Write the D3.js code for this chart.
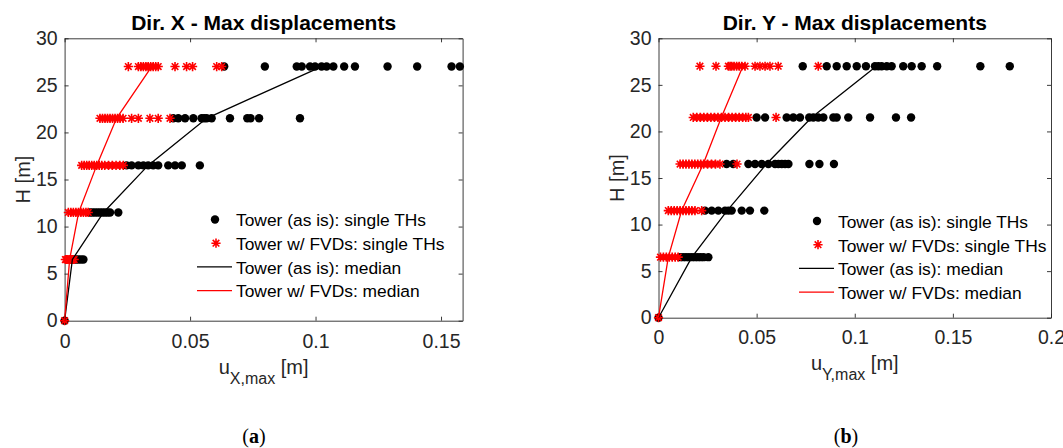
<!DOCTYPE html>
<html>
<head>
<meta charset="utf-8">
<script src="https://cdn.jsdelivr.net/npm/d3@7"></script>
<style>
  html, body { margin: 0; padding: 0; background: #fff; }
  svg { display: block; font-family: "Liberation Sans", Arial, sans-serif; }
</style>
</head>
<body>
<svg id="chart" width="1063" height="448"></svg>
<script>
// Storey heights [m]
const heights = [0, 6.5, 11.5, 16.5, 21.5, 27];

// Dir. X – single time-history maxima per storey (tower as is)
const xAsIsSingle = [
  [0],
  [0.0035, 0.0045, 0.0055, 0.0065, 0.0075],
  [0.0101, 0.0111, 0.0121, 0.0131, 0.0141, 0.0151, 0.0161, 0.0171, 0.0181, 0.0214],
  [0.0247, 0.0267, 0.0294, 0.0314, 0.0333, 0.0353, 0.0373, 0.0413, 0.0440, 0.0467, 0.0539],
  [0.0433, 0.0453, 0.0480, 0.0513, 0.0546, 0.0556, 0.0566, 0.0586, 0.0659, 0.0728, 0.0741, 0.0775, 0.0938],
  [0.0636, 0.0798, 0.0925, 0.0945, 0.0978, 0.0998, 0.1024, 0.1044, 0.1071, 0.1114, 0.1157, 0.1287, 0.1405, 0.1542, 0.1575]
];
// Dir. X – single time-history maxima per storey (tower with FVDs)
const xFvdSingle = [
  [0],
  [0.0003, 0.0008, 0.0013, 0.0018, 0.0023, 0.0028, 0.0033, 0.0038],
  [0.0015, 0.0025, 0.0035, 0.0045, 0.0055, 0.0065, 0.0075, 0.0085, 0.0094],
  [0.0068, 0.0078, 0.0088, 0.0098, 0.0108, 0.0118, 0.0128, 0.0138, 0.0148, 0.0160, 0.0175, 0.0190, 0.0205, 0.0220, 0.0234],
  [0.0141, 0.0151, 0.0161, 0.0171, 0.0181, 0.0191, 0.0201, 0.0211, 0.0221, 0.0233, 0.0267, 0.0294, 0.0340, 0.0373, 0.0420],
  [0.0254, 0.0294, 0.0304, 0.0314, 0.0324, 0.0333, 0.0343, 0.0353, 0.0363, 0.0373, 0.0440, 0.0486, 0.0510, 0.0606, 0.0626]
];
const xAsIsMedian = [0, 0.0031, 0.0155, 0.0333, 0.0566, 0.1024];
const xFvdMedian  = [0, 0.0020, 0.0056, 0.0128, 0.0207, 0.0347];

// Dir. Y – single time-history maxima per storey (tower as is)
const yAsIsSingle = [
  [0],
  [0.0110, 0.0125, 0.0140, 0.0155, 0.0170, 0.0185, 0.0200, 0.0215, 0.0230, 0.0254],
  [0.0237, 0.0271, 0.0305, 0.0339, 0.0356, 0.0373, 0.0424, 0.0466, 0.0539],
  [0.0347, 0.0381, 0.0458, 0.0492, 0.0526, 0.0560, 0.0594, 0.0611, 0.0628, 0.0645, 0.0662, 0.0769, 0.0820, 0.0894],
  [0.0500, 0.0543, 0.0653, 0.0687, 0.0721, 0.0768, 0.0789, 0.0814, 0.0840, 0.0891, 0.0908, 0.0967, 0.1078, 0.1210, 0.1287],
  [0.0735, 0.0857, 0.0908, 0.0959, 0.1010, 0.1057, 0.1103, 0.1120, 0.1137, 0.1163, 0.1188, 0.1247, 0.1290, 0.1341, 0.1420, 0.1640, 0.1790]
];
// Dir. Y – single time-history maxima per storey (tower with FVDs)
const yFvdSingle = [
  [0],
  [0.0010, 0.0025, 0.0040, 0.0055, 0.0070, 0.0085, 0.0100],
  [0.0050, 0.0065, 0.0080, 0.0095, 0.0110, 0.0125, 0.0140, 0.0155, 0.0170, 0.0186, 0.0220],
  [0.0110, 0.0125, 0.0140, 0.0155, 0.0170, 0.0185, 0.0200, 0.0215, 0.0230, 0.0250, 0.0270, 0.0290, 0.0313, 0.0400],
  [0.0177, 0.0195, 0.0213, 0.0231, 0.0249, 0.0267, 0.0285, 0.0303, 0.0321, 0.0339, 0.0357, 0.0375, 0.0393, 0.0411, 0.0429, 0.0445, 0.0458, 0.0599],
  [0.0211, 0.0293, 0.0356, 0.0365, 0.0373, 0.0385, 0.0398, 0.0411, 0.0424, 0.0441, 0.0492, 0.0517, 0.0543, 0.0568, 0.0610, 0.0814]
];
const yAsIsMedian = [0, 0.017, 0.035, 0.055, 0.078, 0.111];
const yFvdMedian  = [0, 0.005, 0.0118, 0.0228, 0.032, 0.043];

// Ticks
const hTicks  = [0, 5, 10, 15, 20, 25, 30];
const uTicksA = [0, 0.05, 0.1, 0.15];
const uTicksB = [0, 0.05, 0.1, 0.15, 0.2];

const legendLabels = [
  "Tower (as is): single THs",
  "Tower w/ FVDs: single THs",
  "Tower (as is): median",
  "Tower w/ FVDs: median"
];

const AXIS_COLOR = "#262626";
const RED = "#ff0000";
const svg = d3.select("#chart");

// Asterisk marker ('+' overlaid with 'x')
function starPath(cx, cy) {
  const a = 4.6, b = 3.3;
  return `M${cx - a},${cy}L${cx + a},${cy}M${cx},${cy - a}L${cx},${cy + a}` +
         `M${cx - b},${cy - b}L${cx + b},${cy + b}M${cx - b},${cy + b}L${cx + b},${cy - b}`;
}

function flatten(singles) {
  const out = [];
  singles.forEach((vals, i) => vals.forEach(v => out.push({ u: v, h: heights[i] })));
  return out;
}

function drawPanel(cfg) {
  const x = d3.scaleLinear().domain(cfg.uDomain).range([cfg.left, cfg.right]);
  const y = d3.scaleLinear().domain([0, 30]).range([cfg.bottom, cfg.top]);
  const g = svg.append("g");

  // Axes with inward ticks on all four sides
  const tick = 4;
  const styleAxis = sel => {
    sel.selectAll(".domain").attr("stroke", AXIS_COLOR).attr("stroke-width", 0.9);
    sel.selectAll(".tick line").attr("stroke", AXIS_COLOR).attr("stroke-width", 0.9);
    sel.selectAll(".tick text").attr("fill", AXIS_COLOR)
      .style("font-family", '"Liberation Sans", Arial, sans-serif').style("font-size", "19.5px");
  };
  g.append("g").attr("transform", `translate(0,${cfg.bottom})`)
    .call(d3.axisBottom(x).tickValues(cfg.uTicks).tickFormat(d3.format("~g"))
      .tickSizeInner(-tick).tickSizeOuter(0).tickPadding(cfg.xPad))
    .call(styleAxis);
  g.append("g").attr("transform", `translate(0,${cfg.top})`)
    .call(d3.axisTop(x).tickValues(cfg.uTicks).tickFormat("")
      .tickSizeInner(-tick).tickSizeOuter(0))
    .call(styleAxis);
  g.append("g").attr("transform", `translate(${cfg.left},0)`)
    .call(d3.axisLeft(y).tickValues(hTicks).tickFormat(d3.format("d"))
      .tickSizeInner(-tick).tickSizeOuter(0).tickPadding(7))
    .call(styleAxis);
  g.append("g").attr("transform", `translate(${cfg.right},0)`)
    .call(d3.axisRight(y).tickValues(hTicks).tickFormat("")
      .tickSizeInner(-tick).tickSizeOuter(0))
    .call(styleAxis);

  // Single time-history points
  g.append("g").selectAll("circle").data(flatten(cfg.asIs)).join("circle")
    .attr("cx", d => x(d.u)).attr("cy", d => y(d.h)).attr("r", 4.2).attr("fill", "#000");
  g.append("g").selectAll("path").data(flatten(cfg.fvd)).join("path")
    .attr("d", d => starPath(x(d.u), y(d.h)))
    .attr("fill", "none").attr("stroke", RED).attr("stroke-width", 1.6);

  // Median profiles
  const line = d3.line().x(d => x(d[0])).y(d => y(d[1]));
  g.append("path").datum(cfg.asIsMed.map((v, i) => [v, heights[i]]))
    .attr("d", line).attr("fill", "none").attr("stroke", "#000").attr("stroke-width", 1.3);
  g.append("path").datum(cfg.fvdMed.map((v, i) => [v, heights[i]]))
    .attr("d", line).attr("fill", "none").attr("stroke", RED).attr("stroke-width", 1.3);

  // Title
  g.append("text").attr("x", (cfg.left + cfg.right) / 2).attr("y", 30)
    .attr("text-anchor", "middle").attr("font-weight", "bold").attr("font-size", 21)
    .attr("fill", "#000").text(cfg.title);

  // Axis labels
  g.append("text").attr("transform", `translate(${cfg.yLabelX},${(cfg.top + cfg.bottom) / 2}) rotate(-90)`)
    .attr("text-anchor", "middle").attr("font-size", 20).attr("fill", AXIS_COLOR).text("H [m]");
  const xl = g.append("text").attr("x", (cfg.left + cfg.right) / 2).attr("y", cfg.xLabelY)
    .attr("text-anchor", "middle").attr("font-size", 20).attr("fill", AXIS_COLOR);
  xl.append("tspan").text("u");
  xl.append("tspan").attr("font-size", 16).attr("dy", 10).text(cfg.sub);
  xl.append("tspan").attr("dy", -10).text(" [m]");

  // Legend
  const lg = g.append("g").attr("transform", `translate(${cfg.legX},${cfg.legY})`);
  const rowH = 23.7;
  legendLabels.forEach((lab, i) => {
    const cy = i * rowH;
    if (i === 0) lg.append("circle").attr("cx", 18).attr("cy", cy).attr("r", 4.2).attr("fill", "#000");
    if (i === 1) lg.append("path").attr("d", starPath(19, cy)).attr("fill", "none")
      .attr("stroke", RED).attr("stroke-width", 1.6);
    if (i === 2) lg.append("line").attr("x1", 0).attr("x2", 35).attr("y1", cy).attr("y2", cy)
      .attr("stroke", "#000").attr("stroke-width", 1.3);
    if (i === 3) lg.append("line").attr("x1", 0).attr("x2", 35).attr("y1", cy).attr("y2", cy)
      .attr("stroke", RED).attr("stroke-width", 1.3);
    lg.append("text").attr("x", 39).attr("y", cy + 6.8).attr("font-size", 17.4)
      .attr("fill", "#000").text(lab);
  });

  // Sub-figure tag
  const tag = svg.append("text").attr("x", cfg.tagX).attr("y", 443).attr("text-anchor", "middle")
    .style("font-family", '"Liberation Serif", "Times New Roman", serif').attr("font-size", 20).attr("fill", "#000");
  tag.append("tspan").text("(");
  tag.append("tspan").attr("font-weight", "bold").text(cfg.tag);
  tag.append("tspan").text(")");
}

drawPanel({
  left: 64.6, right: 462.6, top: 38.3, bottom: 320.7,
  uDomain: [0, 0.1586], uTicks: uTicksA, xPad: 13,
  asIs: xAsIsSingle, fvd: xFvdSingle, asIsMed: xAsIsMedian, fvdMed: xFvdMedian,
  title: "Dir. X - Max displacements", sub: "X,max",
  yLabelX: 30, xLabelY: 374, legX: 197, legY: 219.5, tagX: 254, tag: "a"
});

drawPanel({
  left: 658.5, right: 1051, top: 38.3, bottom: 317.7,
  uDomain: [0, 0.2], uTicks: uTicksB, xPad: 12,
  asIs: yAsIsSingle, fvd: yFvdSingle, asIsMed: yAsIsMedian, fvdMed: yFvdMedian,
  title: "Dir. Y - Max displacements", sub: "Y,max",
  yLabelX: 624, xLabelY: 370, legX: 799, legY: 221, tagX: 846, tag: "b"
});
</script>
</body>
</html>
